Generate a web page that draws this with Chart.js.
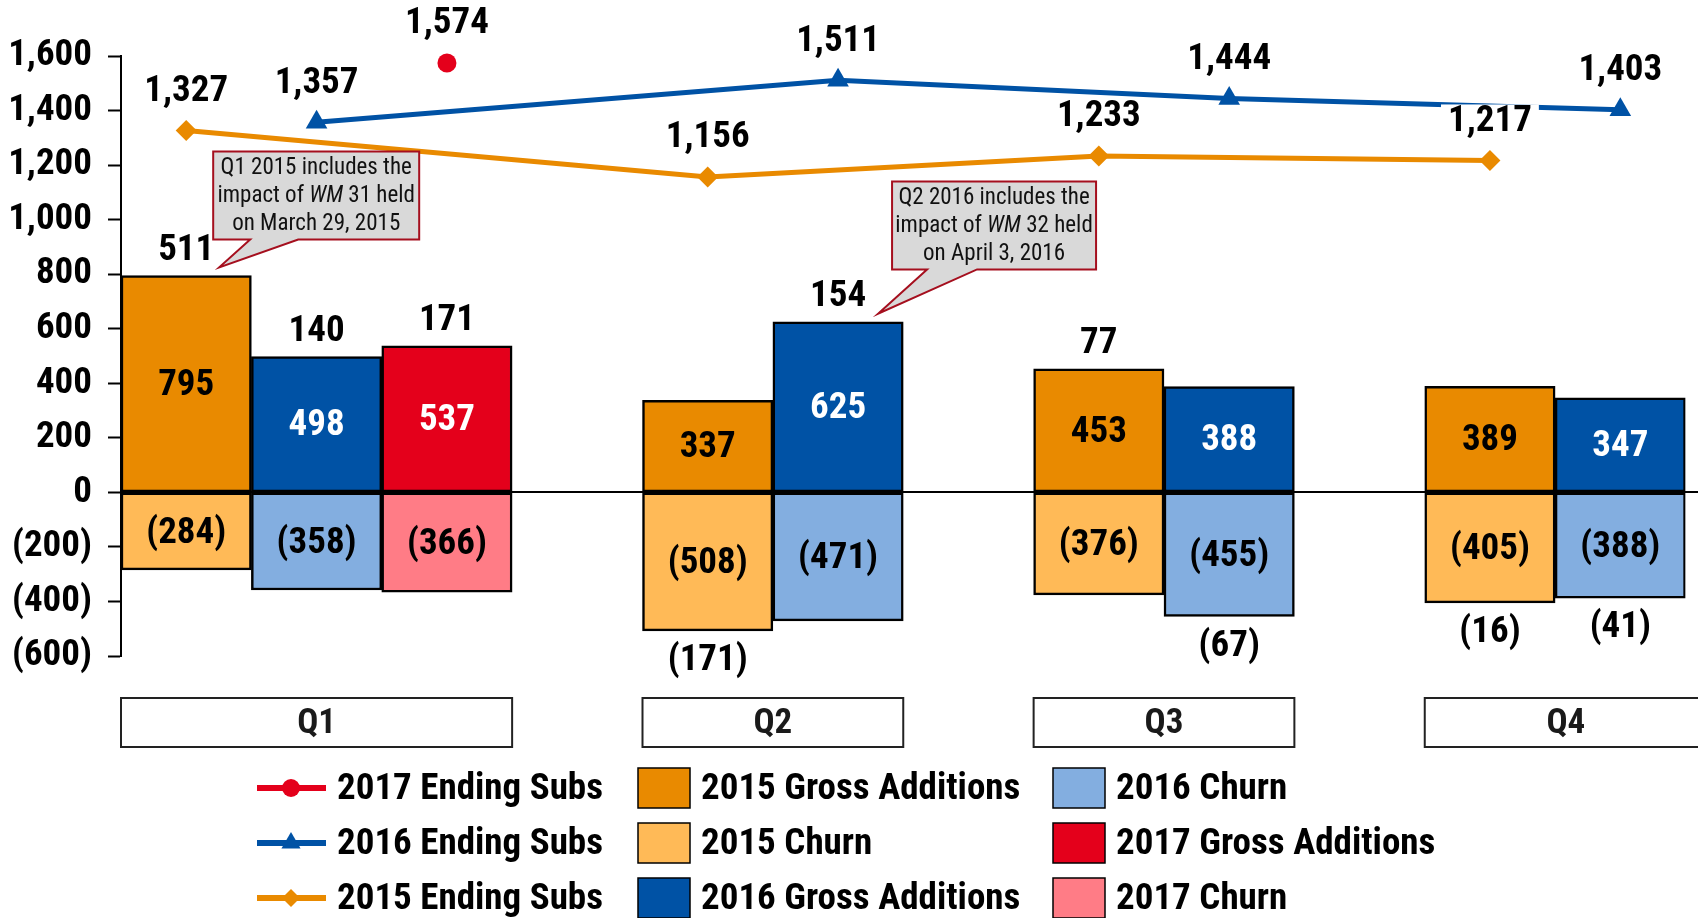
<!DOCTYPE html>
<html>
<head>
<meta charset="utf-8">
<script src="https://cdn.jsdelivr.net/npm/chart.js@4.4.1/dist/chart.umd.min.js"></script>
<style>
html,body{margin:0;padding:0;background:#fff;}
#wrap{width:1698px;height:918px;position:relative;}
</style>
</head>
<body>
<div id="wrap"><canvas id="c" width="1698" height="918"></canvas></div>
<script>
// ---------------- DATA ----------------
const quarters = ['Q1', 'Q2', 'Q3', 'Q4'];
const gross2015 = [795, 337, 453, 389];
const churn2015 = [-284, -508, -376, -405];
const gross2016 = [498, 625, 388, 347];
const churn2016 = [-358, -471, -455, -388];
const gross2017 = [537, null, null, null];
const churn2017 = [-366, null, null, null];
const subs2015 = [1327, 1156, 1233, 1217];
const subs2016 = [1357, 1511, 1444, 1403];
const subs2017 = [1574, null, null, null];
const yMin = -600, yMax = 1600, yStep = 200;
const note1 = ['Q1 2015 includes the', 'impact of |WM| 31 held', 'on March 29, 2015'];
const note2 = ['Q2 2016 includes the', 'impact of |WM| 32 held', 'on April 3, 2016'];

// ---------------- LAYOUT ----------------
const GROUP_START = [0, 4, 7, 10];
const GROUP_SIZE = [3, 2, 2, 2];
const SLOT_COUNT = 12;
const slotLabels = Array.from({length: SLOT_COUNT}, (_, i) => 'slot' + i);
function place(values, offset) {
  const a = new Array(SLOT_COUNT).fill(null);
  values.forEach((v, i) => { if (v != null) a[GROUP_START[i] + offset] = v; });
  return a;
}
const FONT = '"Roboto Condensed", "Open Sans Condensed", sans-serif';
const COL = {
  o: '#E98A00', lo: '#FFBA57', b: '#0052A5', lb: '#83AEE0', r: '#E4001B', p: '#FF7C86'
};
const fmt = v => {
  const s = Math.abs(v).toLocaleString('en-US');
  return v < 0 ? '(' + s + ')' : s;
};

function barDs(label, values, offset, color, textColor) {
  return {
    type: 'bar', label, data: place(values, offset),
    backgroundColor: color, borderColor: '#000', borderWidth: 2.5,
    borderSkipped: false, grouped: false,
    barPercentage: 1, categoryPercentage: 1, order: 2,
    labelColor: textColor
  };
}
function lineDs(label, values, offset, color, pointStyle, radius) {
  return {
    type: 'line', label, data: place(values, offset),
    borderColor: color, backgroundColor: color, borderWidth: 5,
    pointStyle, pointRadius: radius, pointBorderWidth: 0,
    pointBackgroundColor: color, spanGaps: true, order: 0, clip: false
  };
}

const datasets = [
  barDs('2015 Gross Additions', gross2015, 0, COL.o, '#000'),
  barDs('2015 Churn', churn2015, 0, COL.lo, '#000'),
  barDs('2016 Gross Additions', gross2016, 1, COL.b, '#fff'),
  barDs('2016 Churn', churn2016, 1, COL.lb, '#000'),
  barDs('2017 Gross Additions', gross2017, 2, COL.r, '#fff'),
  barDs('2017 Churn', churn2017, 2, COL.p, '#000'),
  lineDs('2015 Ending Subs', subs2015, 0, COL.o, 'rectRot', 10.5),
  lineDs('2016 Ending Subs', subs2016, 1, COL.b, 'triangle', 12.5),
  lineDs('2017 Ending Subs', subs2017, 2, COL.r, 'circle', 9.5)
];

const netSeries = [
  {gross: gross2015, churn: churn2015, offset: 0},
  {gross: gross2016, churn: churn2016, offset: 1},
  {gross: gross2017, churn: churn2017, offset: 2}
];

function drawMarker(ctx, style, x, y, r, color) {
  ctx.fillStyle = color;
  ctx.beginPath();
  if (style === 'circle') {
    ctx.arc(x, y, r, 0, Math.PI * 2);
  } else if (style === 'triangle') {
    ctx.moveTo(x, y - r); ctx.lineTo(x + r * 0.87, y + r * 0.5); ctx.lineTo(x - r * 0.87, y + r * 0.5);
  } else {
    ctx.moveTo(x, y - r); ctx.lineTo(x + r, y); ctx.lineTo(x, y + r); ctx.lineTo(x - r, y);
  }
  ctx.closePath(); ctx.fill();
}

function drawNote(ctx, lines, bx, by, bw, bh, p1, p2, tx, ty) {
  ctx.save();
  ctx.beginPath();
  ctx.moveTo(bx, by);
  ctx.lineTo(bx + bw, by);
  ctx.lineTo(bx + bw, by + bh);
  ctx.lineTo(p2, by + bh);
  ctx.lineTo(tx, ty);
  ctx.lineTo(p1, by + bh);
  ctx.lineTo(bx, by + bh);
  ctx.closePath();
  ctx.fillStyle = '#D9D9D9';
  ctx.fill();
  ctx.strokeStyle = '#A50F1E';
  ctx.lineWidth = 2;
  ctx.stroke();
  ctx.fillStyle = '#111';
  ctx.textBaseline = 'middle';
  const lh = 28;
  const cx = bx + bw / 2;
  const cy0 = by + bh / 2 - lh + 1;
  lines.forEach((ln, i) => {
    const parts = ln.split('|');
    const fonts = parts.map((_, k) => (k % 2 === 1 ? 'italic ' : '') + '23px ' + FONT);
    let total = 0;
    parts.forEach((pt, k) => { ctx.font = fonts[k]; total += ctx.measureText(pt).width; });
    let x = cx - total / 2;
    ctx.textAlign = 'left';
    parts.forEach((pt, k) => {
      ctx.font = fonts[k];
      ctx.fillText(pt, x, cy0 + i * lh);
      x += ctx.measureText(pt).width;
    });
  });
  ctx.restore();
}

const labelPlugin = {
  id: 'customLabels',
  afterDatasetsDraw(chart) {
    const {ctx, chartArea, scales: {x, y}} = chart;
    ctx.save();
    // zero line
    const y0 = Math.round(y.getPixelForValue(0));
    ctx.strokeStyle = '#000'; ctx.lineWidth = 2;
    ctx.beginPath(); ctx.moveTo(chartArea.left, y0); ctx.lineTo(chart.width, y0); ctx.stroke();

    ctx.textAlign = 'center'; ctx.textBaseline = 'middle';
    ctx.font = 'bold 37px ' + FONT;
    // values inside bars
    chart.data.datasets.forEach((ds, di) => {
      if (ds.type !== 'bar') return;
      const meta = chart.getDatasetMeta(di);
      meta.data.forEach((el, j) => {
        const v = ds.data[j];
        if (v == null) return;
        ctx.fillStyle = ds.labelColor;
        ctx.fillText(fmt(v), el.x, (el.y + el.base) / 2 + 2);
      });
    });
    // net additions above / below
    ctx.fillStyle = '#000';
    netSeries.forEach(s => {
      quarters.forEach((q, qi) => {
        const g = s.gross[qi], c = s.churn[qi];
        if (g == null) return;
        const net = g + c;
        const px = x.getPixelForValue(GROUP_START[qi] + s.offset);
        const py = net >= 0 ? y.getPixelForValue(g) - 25 : y.getPixelForValue(c) + 30;
        ctx.fillText(fmt(net), px, py);
      });
    });
    // ending subs labels with white backing
    chart.data.datasets.forEach((ds, di) => {
      if (ds.type !== 'line') return;
      const meta = chart.getDatasetMeta(di);
      meta.data.forEach((el, j) => {
        const v = ds.data[j];
        if (v == null) return;
        const t = fmt(v);
        const w = ctx.measureText(t).width;
        const ly = el.y - 39;
        ctx.fillStyle = '#fff';
        ctx.fillRect(el.x - w / 2 - 7, ly - 17, w + 14, 32);
        ctx.fillStyle = '#000';
        ctx.fillText(t, el.x, ly);
      });
    });
    ctx.restore();
  },
  afterDraw(chart) {
    const {ctx, chartArea, scales: {x, y}} = chart;
    ctx.save();
    const slotW = x.getPixelForValue(1) - x.getPixelForValue(0);
    // quarter boxes
    const boxTop = chartArea.bottom + 42, boxH = 49;
    quarters.forEach((q, qi) => {
      const l = x.getPixelForValue(GROUP_START[qi]) - slotW / 2;
      let r = x.getPixelForValue(GROUP_START[qi] + GROUP_SIZE[qi] - 1) + slotW / 2;
      if (qi === quarters.length - 1) r = chart.width + 20;
      ctx.fillStyle = '#fff';
      ctx.fillRect(l, boxTop, r - l, boxH);
      ctx.strokeStyle = '#222'; ctx.lineWidth = 2;
      ctx.strokeRect(l, boxTop, r - l, boxH);
      ctx.fillStyle = '#1a1a1a';
      ctx.font = 'bold 35px ' + FONT;
      ctx.textAlign = 'center'; ctx.textBaseline = 'middle';
      const cx = qi === quarters.length - 1 ? (l + chart.width + 9) / 2 : (l + r) / 2;
      ctx.fillText(q, cx, boxTop + boxH / 2 + 2);
    });

    // notes (callouts)
    const s0 = x.getPixelForValue(0), s5 = x.getPixelForValue(5);
    drawNote(ctx, note1, s0 + 27, y.getPixelForValue(1250), 206, 88, s0 + 64, s0 + 112, s0 + 33, y.getPixelForValue(825));
    drawNote(ctx, note2, s5 + 54, y.getPixelForValue(1140), 204, 88, s5 + 89, s5 + 139, s5 + 40, y.getPixelForValue(655));

    // legend
    const rows = [788, 843, 898];
    const byLabel = {};
    chart.data.datasets.forEach(d => byLabel[d.label] = d);
    const cols = [
      {x: 257, kind: 'line', items: ['2017 Ending Subs', '2016 Ending Subs', '2015 Ending Subs']},
      {x: 638, kind: 'box', items: ['2015 Gross Additions', '2015 Churn', '2016 Gross Additions']},
      {x: 1053, kind: 'box', items: ['2016 Churn', '2017 Gross Additions', '2017 Churn']}
    ];
    ctx.font = 'bold 37px ' + FONT;
    ctx.textAlign = 'left'; ctx.textBaseline = 'middle';
    cols.forEach(col => {
      col.items.forEach((name, i) => {
        const d = byLabel[name];
        const cy = rows[i];
        let tx;
        if (col.kind === 'line') {
          ctx.strokeStyle = d.borderColor; ctx.lineWidth = 6;
          ctx.beginPath(); ctx.moveTo(col.x, cy); ctx.lineTo(col.x + 69, cy); ctx.stroke();
          const r = d.pointStyle === 'circle' ? 9 : (d.pointStyle === 'triangle' ? 11 : 9);
          drawMarker(ctx, d.pointStyle, col.x + 34, cy, r, d.borderColor);
          tx = col.x + 80;
        } else {
          ctx.fillStyle = d.backgroundColor;
          ctx.fillRect(col.x, cy - 20, 52, 40);
          ctx.strokeStyle = '#000'; ctx.lineWidth = 1.5;
          ctx.strokeRect(col.x, cy - 20, 52, 40);
          tx = col.x + 63;
        }
        ctx.fillStyle = '#000';
        ctx.fillText(name, tx, cy + 2);
      });
    });
    ctx.restore();
  }
};

new Chart(document.getElementById('c').getContext('2d'), {
  data: {labels: slotLabels, datasets},
  options: {
    responsive: false, animation: false, devicePixelRatio: 1,
    layout: {padding: {left: 0, right: 11, top: 56, bottom: 262}},
    plugins: {legend: {display: false}, tooltip: {enabled: false}},
    scales: {
      x: {type: 'category', display: false, offset: true, grid: {display: false}},
      y: {
        min: yMin, max: yMax,
        ticks: {stepSize: yStep, color: '#000', padding: 16,
          font: {family: FONT, size: 37, weight: 'bold'}, callback: v => fmt(v)},
        grid: {drawOnChartArea: false, tickLength: 13, tickColor: '#000', tickWidth: 2},
        border: {display: true, color: '#000', width: 2},
        afterFit: s => { s.width = 121; }
      }
    }
  },
  plugins: [labelPlugin]
});
</script>
</body>
</html>
